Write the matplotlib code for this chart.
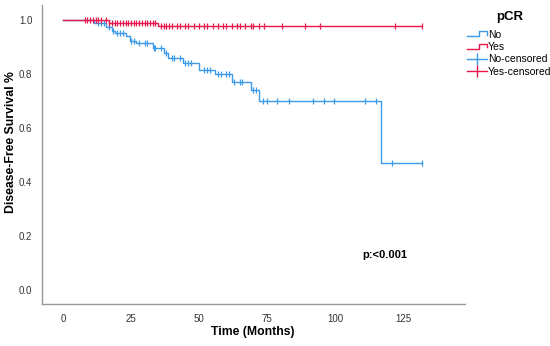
import numpy as np
import matplotlib
matplotlib.use("Agg")
import matplotlib.pyplot as plt
from matplotlib.lines import Line2D
from matplotlib.legend_handler import HandlerBase

plt.rcParams["font.family"] = ["Liberation Sans", "DejaVu Sans"]

# --- data ---
no_times = [0, 11.5, 16, 18, 19, 23, 24.5, 27, 33, 37, 38.5, 44, 50, 56, 62, 69, 72, 117]
no_surv = [1.0, 0.988, 0.975, 0.96, 0.952, 0.94, 0.92, 0.915, 0.896, 0.878, 0.86, 0.84,
           0.815, 0.80, 0.77, 0.74, 0.70, 0.47]
no_end = 132
no_cens = [13, 14, 15, 17, 18.5, 20, 21, 22, 25, 26, 28, 30, 31, 33.5, 34, 36, 38, 40, 41,
           43, 45, 46, 47, 52, 53, 54, 57, 58, 60, 61, 63, 65, 66, 70, 71, 73.5, 75, 78.7,
           83, 92, 96, 99.6, 111, 115, 121, 132]

yes_times = [0, 17, 35]
yes_surv = [1.0, 0.99, 0.978]
yes_end = 132
yes_cens = [8, 9, 10, 11, 12, 13, 14, 16, 17, 18, 19, 20, 21, 22, 23, 24, 25, 26, 27, 28,
            29, 30, 31, 32, 33, 34, 36, 37, 38, 39, 40, 42, 43, 45, 46, 48, 50, 52, 53, 55,
            57, 59, 60, 62, 64, 65, 67, 69, 70, 72, 74, 80.5, 89, 94.5, 122, 132]

x_ticks = [0, 25, 50, 75, 100, 125]
y_ticks = [0.0, 0.2, 0.4, 0.6, 0.8, 1.0]

blue = "#3d9be9"
red = "#e8174b"


def surv_at(times, surv, t):
    i = np.searchsorted(times, t, side="right") - 1
    return np.asarray(surv)[i]


class StepHandler(HandlerBase):
    # step-shaped legend key like the SPSS output
    def create_artists(self, legend, orig, xd, yd, w, h, fontsize, trans):
        xs = [xd, xd + 0.6 * w, xd + 0.6 * w, xd + w, xd + w]
        ys = [yd + 0.2 * h, yd + 0.2 * h, yd + 0.85 * h, yd + 0.85 * h, yd + 0.4 * h]
        ln = Line2D(xs, ys, color=orig.get_color(), lw=1.0, transform=trans)
        return [ln]


fig = plt.figure(figsize=(5.5, 3.46), dpi=100)
ax = fig.add_axes([42 / 550, 42 / 346, 423 / 550, 299 / 346])

for times, surv, end, cens, col in [(no_times, no_surv, no_end, no_cens, blue),
                                    (yes_times, yes_surv, yes_end, yes_cens, red)]:
    ax.step(list(times) + [end], list(surv) + [surv[-1]], where="post", color=col, lw=1.0)
    cy = [surv_at(times, surv, t) for t in cens]
    ax.plot(cens, cy, ls="none", marker="|", ms=5, mew=0.9, color=col)

ax.set_xlim(-7.7, 147.8)
ax.set_ylim(-0.052, 1.055)
ax.set_xticks(x_ticks)
ax.set_yticks(y_ticks)
ax.set_yticklabels([f"{v:.1f}" for v in y_ticks])
ax.tick_params(length=0, labelsize=7, colors="#333333", pad=7)
for s in ["top", "right"]:
    ax.spines[s].set_visible(False)
for s in ["left", "bottom"]:
    ax.spines[s].set_color("#999999")
    ax.spines[s].set_linewidth(1.0)

ax.set_xlabel("Time (Months)", fontsize=8.8, fontweight="bold")
ax.xaxis.set_label_coords(0.499, -0.072)
ax.set_ylabel("Disease-Free Survival %", fontsize=8.8, fontweight="bold")
ax.yaxis.set_label_coords(-0.058, 0.542)
ax.text(110, 0.12, "p:<0.001", fontsize=8, fontweight="bold")

h_no = Line2D([], [], color=blue)
h_yes = Line2D([], [], color=red)
h_noc = Line2D([], [], color=blue, marker="|", ms=8, lw=1.0)
h_yesc = Line2D([], [], color=red, marker="|", ms=8, lw=1.0)
leg = fig.legend([h_no, h_yes, h_noc, h_yesc], ["No", "Yes", "No-censored", "Yes-censored"],
                 title="pCR", loc="upper left", bbox_to_anchor=(465 / 550, 0.975),
                 frameon=False, fontsize=7.5, handlelength=1.9, handletextpad=0.1,
                 labelspacing=0.22, borderaxespad=0, borderpad=0.2,
                 handler_map={h_no: StepHandler(), h_yes: StepHandler()})
leg.get_title().set_fontweight("bold")
leg.get_title().set_fontsize(9.5)
leg._legend_box.sep = 5

fig.savefig("out.png", dpi=100)
